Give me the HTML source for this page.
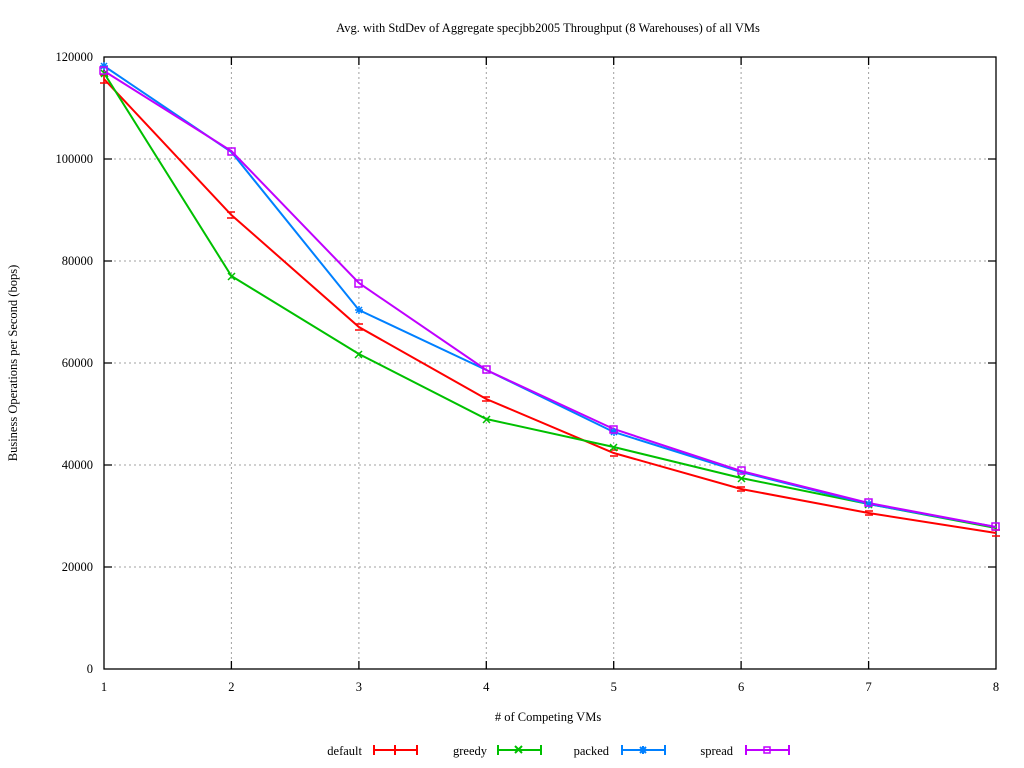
<!DOCTYPE html>
<html><head><meta charset="utf-8"><style>
html,body{margin:0;padding:0;background:#fff;}
svg{display:block;font-family:"Liberation Serif","DejaVu Serif",serif;font-size:12.5px;}
</style></head><body>
<svg width="1024" height="768" viewBox="0 0 1024 768" xmlns="http://www.w3.org/2000/svg">
<rect width="1024" height="768" fill="#fff"/>
<text x="548" y="32" text-anchor="middle">Avg. with StdDev of Aggregate specjbb2005 Throughput (8 Warehouses) of all VMs</text>
<g stroke="#a0a0a0" stroke-width="1" stroke-dasharray="2,3">
<line x1="104" y1="567" x2="996" y2="567"/><line x1="104" y1="465" x2="996" y2="465"/>
<line x1="104" y1="363" x2="996" y2="363"/><line x1="104" y1="261" x2="996" y2="261"/>
<line x1="104" y1="159" x2="996" y2="159"/>
<line x1="231.4" y1="57" x2="231.4" y2="669"/><line x1="358.9" y1="57" x2="358.9" y2="669"/>
<line x1="486.3" y1="57" x2="486.3" y2="669"/><line x1="613.7" y1="57" x2="613.7" y2="669"/>
<line x1="741.1" y1="57" x2="741.1" y2="669"/><line x1="868.6" y1="57" x2="868.6" y2="669"/>
</g>
<g stroke="#000" stroke-width="1.3" fill="none">
<rect x="104" y="57" width="892" height="612"/>
<path d="M104 567h8M104 465h8M104 363h8M104 261h8M104 159h8M996 567h-8M996 465h-8M996 363h-8M996 261h-8M996 159h-8
M231.4 669v-8M358.9 669v-8M486.3 669v-8M613.7 669v-8M741.1 669v-8M868.6 669v-8
M231.4 57v8M358.9 57v8M486.3 57v8M613.7 57v8M741.1 57v8M868.6 57v8"/>
</g>
<g text-anchor="end">
<text x="93" y="673">0</text><text x="93" y="571">20000</text><text x="93" y="469">40000</text>
<text x="93" y="367">60000</text><text x="93" y="265">80000</text><text x="93" y="163">100000</text><text x="93" y="61">120000</text>
</g>
<g text-anchor="middle">
<text x="104" y="691">1</text><text x="231.4" y="691">2</text><text x="358.9" y="691">3</text><text x="486.3" y="691">4</text>
<text x="613.7" y="691">5</text><text x="741.1" y="691">6</text><text x="868.6" y="691">7</text><text x="996" y="691">8</text>
<text x="548" y="721"># of Competing VMs</text>
</g>
<text transform="translate(17,363) rotate(-90)" text-anchor="middle">Business Operations per Second (bops)</text>
<g fill="none" stroke-width="2">
<polyline stroke="#ff0000" points="104,79 231.4,215 358.9,327 486.3,399 613.7,453 741.1,489 868.6,513 996,533"/>
<polyline stroke="#00c000" points="104,73 231.4,276 358.9,354 486.3,419 613.7,447 741.1,478 868.6,504 996,528"/>
<polyline stroke="#0080ff" points="104,66 231.4,152 358.9,310 486.3,370 613.7,432 741.1,472 868.6,504 996,527"/>
<polyline stroke="#c000ff" points="104,71 231.4,151 358.9,283 486.3,370 613.7,429 741.1,471 868.6,503 996,527"/>
</g>
<g stroke="#ff0000" stroke-width="1.5" fill="none">
<path d="M100 75h8M100 83h8M104 75v8M227 212h8M227 218h8M355 324h8M355 330h8M482 397h8M482 401h8M610 450h8M610 456h8M737 487h8M737 491h8M865 511h8M865 515h8M992 530h8M992 536h8"/>
</g>
<g stroke="#00c000" stroke-width="1.5">
<path d="M228 273l7 7M235 273l-7 7M355 351l7 7M362 351l-7 7M483 416l7 7M490 416l-7 7M610 444l7 7M617 444l-7 7M738 475l7 7M745 475l-7 7M865 501l7 7M872 501l-7 7M101 70l7 7M108 70l-7 7"/>
</g>
<g stroke="#0080ff" stroke-width="1.5">
<path d="M100 66h8M104 62v8M101 63l6 6M107 63l-6 6M355 310h8M359 306v8M356 307l6 6M362 307l-6 6M610 432h8M614 428v8M611 429l6 6M617 429l-6 6M865 504h8M869 500v8M866 501l6 6M872 501l-6 6"/>
</g>
<g stroke="#c000ff" stroke-width="1.5" fill="none">
<rect x="100" y="67" width="7" height="7"/><rect x="228" y="148" width="7" height="7"/><rect x="355" y="280" width="7" height="7"/>
<rect x="483" y="366" width="7" height="7"/><rect x="610" y="426" width="7" height="7"/><rect x="738" y="467" width="7" height="7"/>
<rect x="865" y="499" width="7" height="7"/><rect x="992" y="523" width="7" height="7"/>
</g>
<g text-anchor="end">
<text x="362" y="755">default</text><text x="487" y="755">greedy</text><text x="609" y="755">packed</text><text x="733" y="755">spread</text>
</g>
<g stroke-width="2" fill="none">
<path stroke="#ff0000" d="M374 750h43M374 745v10M417 745v10M395 745v10"/>
<path stroke="#00c000" d="M498 750h43M498 745v10M541 745v10M515 746l7 7M522 746l-7 7"/>
<path stroke="#0080ff" d="M622 750h43M622 745v10M665 745v10M643 746v8M640 747l6 6M646 747l-6 6"/>
<path stroke="#c000ff" d="M746 750h43M746 745v10M789 745v10"/>
<rect x="764" y="747" width="6" height="6" stroke="#c000ff" stroke-width="1.5" fill="none"/>
</g>
</svg>
</body></html>
